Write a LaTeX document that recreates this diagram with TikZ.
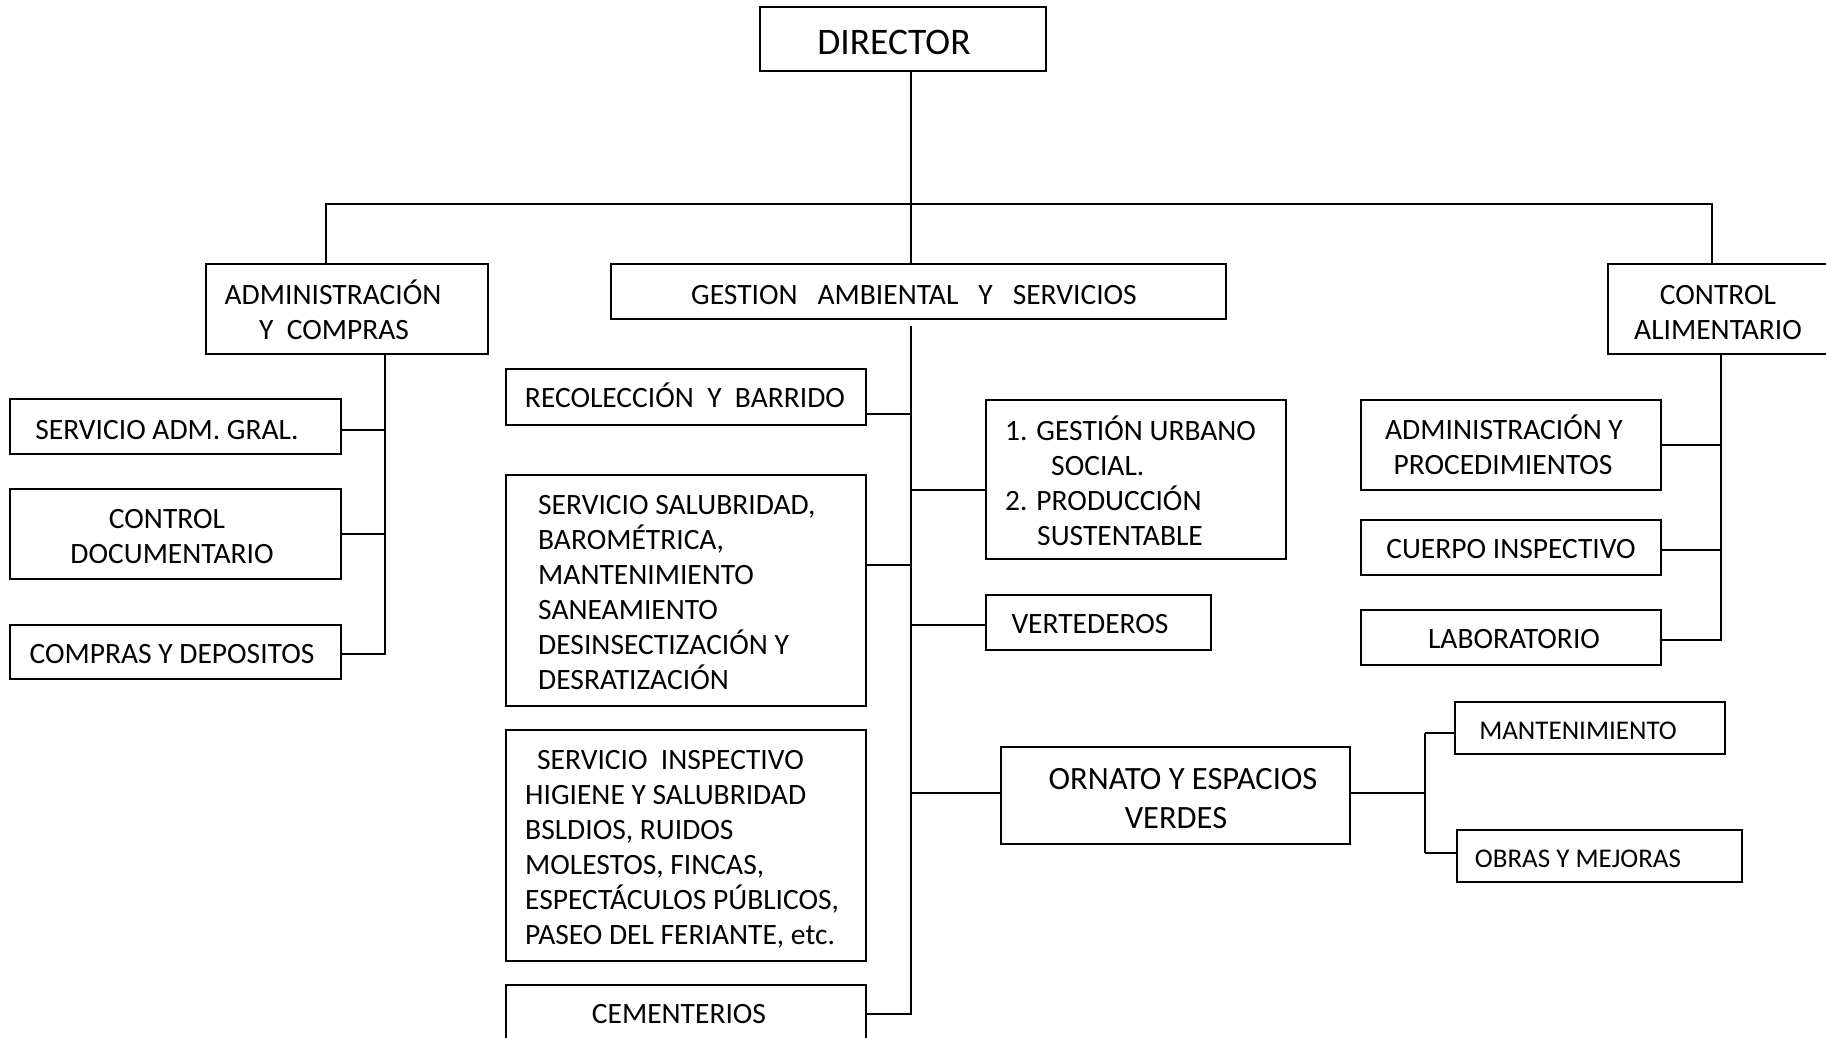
\documentclass[tikz,border=0pt]{standalone}
\usepackage{fontspec}
\setmainfont{Carlito}
\usetikzlibrary{fit}
\begin{document}
\begin{tikzpicture}[x=1pt,y=-1pt,
  box/.style={draw, line width=2.4pt, inner sep=0pt},
  conn/.style={line width=2pt},
  t/.style={inner sep=0pt, anchor=base, font=\fontsize{29.5}{35}\selectfont},
  tl/.style={t, anchor=base west},
  tbig/.style={t, font=\fontsize{37.5}{43}\selectfont},
  torn/.style={t, font=\fontsize{32.5}{38}\selectfont},
  tsm/.style={t, font=\fontsize{27}{31}\selectfont}]
\useasboundingbox (0,0) rectangle (1826,1037);
\fill[white] (0,0) rectangle (1826,1037);
% boxes
\node[box, fit={(760,7) (1046,71)}] (dir) {};
\node[box, fit={(206,264) (488,354)}] (adm) {};
\node[box, fit={(611,264) (1226,319)}] (ges) {};
\node[box, fit={(1608,264) (1832,354)}] (cal) {};
\node[box, fit={(10,399) (341,454)}] (sag) {};
\node[box, fit={(10,489) (341,579)}] (cdo) {};
\node[box, fit={(10,625) (341,679)}] (cyd) {};
\node[box, fit={(506,369) (866,425)}] (rec) {};
\node[box, fit={(506,475) (866,706)}] (sal) {};
\node[box, fit={(506,730) (866,961)}] (ins) {};
\node[box, fit={(506,985) (866,1048)}] (cem) {};
\node[box, fit={(986,400) (1286,559)}] (gus) {};
\node[box, fit={(986,595) (1211,650)}] (ver) {};
\node[box, fit={(1001,747) (1350,844)}] (orn) {};
\node[box, fit={(1455,702) (1725,754)}] (man) {};
\node[box, fit={(1457,830) (1742,882)}] (obr) {};
\node[box, fit={(1361,400) (1661,490)}] (adp) {};
\node[box, fit={(1361,520) (1661,575)}] (cui) {};
\node[box, fit={(1361,610) (1661,665)}] (lab) {};
% texts
\node[tbig] (tdir) at (894,54) {DIRECTOR};
\node[t] (tadm1) at (333,304) {ADMINISTRACIÓN};
\node[t] (tadm2) at (334,339) {Y\ \ COMPRAS};
\node[t] (tges) at (914,304) {GESTION\ \ \ AMBIENTAL\ \ \ Y\ \ \ SERVICIOS};
\node[t] (tcal1) at (1718,304) {CONTROL};
\node[t] (tcal2) at (1718,339) {ALIMENTARIO};
\node[t] (tsag) at (167,439) {SERVICIO ADM. GRAL.};
\node[t] (tcdo1) at (167,528) {CONTROL};
\node[t] (tcdo2) at (172,563) {DOCUMENTARIO};
\node[t] (tcyd) at (172,663) {COMPRAS Y DEPOSITOS};
\node[t] (trec) at (685,407) {RECOLECCIÓN\ \ Y\ \ BARRIDO};
\node[tl] (tsal1) at (538,514) {SERVICIO SALUBRIDAD,};
\node[tl] (tsal2) at (538,549) {BAROMÉTRICA,};
\node[tl] (tsal3) at (538,584) {MANTENIMIENTO};
\node[tl] (tsal4) at (538,619) {SANEAMIENTO};
\node[tl] (tsal5) at (538,654) {DESINSECTIZACIÓN Y};
\node[tl] (tsal6) at (538,689) {DESRATIZACIÓN};
\node[tl] (tins1) at (537,769) {SERVICIO\ \ INSPECTIVO};
\node[tl] (tins2) at (525,804) {HIGIENE Y SALUBRIDAD};
\node[tl] (tins3) at (525,839) {BSLDIOS, RUIDOS};
\node[tl] (tins4) at (525,874) {MOLESTOS, FINCAS,};
\node[tl] (tins5) at (525,909) {ESPECTÁCULOS PÚBLICOS,};
\node[tl] (tins6) at (525,944) {PASEO DEL FERIANTE, etc.};
\node[t] (tcem) at (679,1023) {CEMENTERIOS};
\node[tl] (tgus1) at (1005,440) {1. GESTIÓN URBANO};
\node[tl] (tgus2) at (1051,475) {SOCIAL.};
\node[tl] (tgus3) at (1005,510) {2. PRODUCCIÓN};
\node[tl] (tgus4) at (1037,545) {SUSTENTABLE};
\node[t] (tver) at (1090,633) {VERTEDEROS};
\node[t] (tadp1) at (1504,439) {ADMINISTRACIÓN Y};
\node[t] (tadp2) at (1503,474) {PROCEDIMIENTOS};
\node[t] (tcui) at (1511,558) {CUERPO INSPECTIVO};
\node[t] (tlab) at (1514,648) {LABORATORIO};
\node[torn] (torn1) at (1183,789) {ORNATO Y ESPACIOS};
\node[torn] (torn2) at (1176,828) {VERDES};
\node[tsm] (tman) at (1578,739) {MANTENIMIENTO};
\node[tsm] (tobr) at (1578,867) {OBRAS Y MEJORAS};
% spine coordinates
\coordinate (s0) at (911,204);
\coordinate (bl) at (326,204);
\coordinate (br) at (1712,204);
\coordinate (g0) at (911,326);
\coordinate (gend) at (911,1014);
\coordinate (as) at (385,654);
\coordinate (cs) at (1721,640);
\coordinate (os) at (1425,793);
% connectors
\draw[conn] (s0 |- dir.south) -- (s0 |- ges.north);
\draw[conn] (bl |- adm.north) -- (bl) -- (br) -- (br |- cal.north);
% admin
\draw[conn] (as |- adm.south) -- (as) -- (as -| cyd.east);
\draw[conn] (as |- 0,430) -- (sag.east |- 0,430);
\draw[conn] (as |- cdo.east) -- (cdo.east);
% gestion
\draw[conn] (g0) -- (gend) -- (gend -| cem.east);
\draw[conn] (g0 |- 0,414) -- (rec.east |- 0,414);
\draw[conn] (g0 |- 0,565) -- (sal.east |- 0,565);
\draw[conn] (g0 |- 0,490) -- (gus.west |- 0,490);
\draw[conn] (g0 |- 0,625) -- (ver.west |- 0,625);
\draw[conn] (g0 |- os) -- (orn.west |- os);
% ornato
\draw[conn] (orn.east |- os) -- (os);
\draw[conn] (os |- 0,733) -- (os |- 0,853);
\draw[conn] (os |- 0,733) -- (man.west |- 0,733);
\draw[conn] (os |- 0,853) -- (obr.west |- 0,853);
% control alimentario
\draw[conn] (cs |- cal.south) -- (cs) -- (cs -| lab.east);
\draw[conn] (cs |- 0,445) -- (adp.east |- 0,445);
\draw[conn] (cs |- 0,550) -- (cui.east |- 0,550);
\end{tikzpicture}
\end{document}
